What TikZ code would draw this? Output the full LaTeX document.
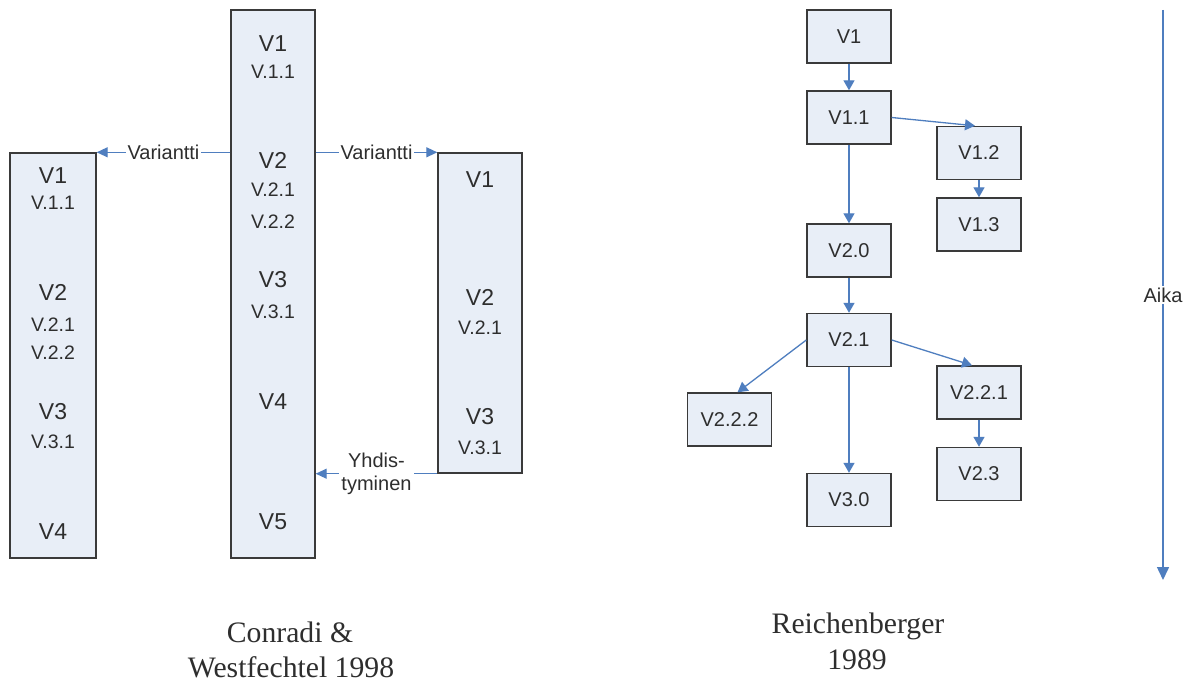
\documentclass[tikz,border=0pt]{standalone}
\usepackage{fontspec}
\setmainfont{Liberation Sans}
\newfontfamily\capfont{Liberation Serif}
\usetikzlibrary{arrows.meta,calc}
\definecolor{boxfill}{HTML}{E8EEF7}
\definecolor{boxline}{HTML}{3A3A3A}
\definecolor{linkblue}{HTML}{4F7EBF}
\definecolor{ink}{HTML}{2E2E2E}

\begin{document}
\begin{tikzpicture}[x=1pt,y=-1pt,
  column/.style={draw=boxline, line width=1.4pt, fill=boxfill, inner sep=0pt},
  verbox/.style={draw=boxline, line width=1.4pt, fill=boxfill, minimum width=84pt,
    minimum height=53pt, inner sep=0pt, font=\fontsize{20}{24}\selectfont, text=ink},
  big/.style={font=\fontsize{23}{27}\selectfont, text=ink, inner sep=0pt},
  small/.style={font=\fontsize{19.5}{23}\selectfont, text=ink, inner sep=0pt},
  link/.style={draw=linkblue, line width=1.3pt, -{Triangle[width=11pt,length=10pt]}},
  tag/.style={fill=white, inner sep=2pt, text=ink, font=\fontsize{20}{23}\selectfont},
  caption/.style={font=\capfont\fontsize{29.7}{35}\selectfont, text=ink, anchor=base, inner sep=0pt}]

\fill[white] (0,0) rectangle (1194,682);
\useasboundingbox (0,0) rectangle (1194,682);

% --- version columns (Conradi & Westfechtel) ---
\node[column, minimum width=84pt, minimum height=548pt] (mid) at (273,284) {};
\node[column, minimum width=86pt, minimum height=405pt] (left) at (53,355.5) {};
\node[column, minimum width=84pt, minimum height=320pt] (right) at (480,313) {};

% main line
\node[big]   (m1)  at (273,44)  {V1};
\node[small] (m11) at (273,72)  {V.1.1};
\node[big]   (m2)  at (273,160) {V2};
\node[small] (m21) at (273,190) {V.2.1};
\node[small] (m22) at (273,222) {V.2.2};
\node[big]   (m3)  at (273,280) {V3};
\node[small] (m31) at (273,312) {V.3.1};
\node[big]   (m4)  at (273,402) {V4};
\node[big]   (m5)  at (273,522) {V5};

% left variant
\node[big]   (l1)  at (53,176) {V1};
\node[small] (l11) at (53,203) {V.1.1};
\node[big]   (l2)  at (53,292) {V2};
\node[small] (l21) at (53,325) {V.2.1};
\node[small] (l22) at (53,353) {V.2.2};
\node[big]   (l3)  at (53,412) {V3};
\node[small] (l31) at (53,442) {V.3.1};
\node[big]   (l4)  at (53,532) {V4};

% right variant
\node[big]   (r1)  at (480,180) {V1};
\node[big]   (r2)  at (480,297) {V2};
\node[small] (r21) at (480,328) {V.2.1};
\node[big]   (r3)  at (480,417) {V3};
\node[small] (r31) at (480,448) {V.3.1};

\draw[link, -{Triangle[width=10pt,length=11pt]}] (mid.west |- left.north east)
  -- node[tag] {Variantti} (left.north east);
\draw[link, -{Triangle[width=10pt,length=11pt]}] (mid.east |- right.north west)
  -- node[tag] {Variantti} (right.north west);
\draw[link, -{Triangle[width=10pt,length=11pt]}] (right.south west)
  -- node[tag, align=center] {Yhdis-\\tyminen} (mid.east |- right.south west);

% --- version tree (Reichenberger) ---
\node[verbox] (v1)   at (849,36.5)  {V1};
\node[verbox] (v11)  at (849,117.5) {V1.1};
\node[verbox] (v12)  at (979,153)   {V1.2};
\node[verbox] (v13)  at (979,224.5) {V1.3};
\node[verbox] (v20)  at (849,250.5) {V2.0};
\node[verbox] (v21)  at (849,340)   {V2.1};
\node[verbox] (v222) at (729.5,419.5) {V2.2.2};
\node[verbox] (v221) at (979,392.5) {V2.2.1};
\node[verbox] (v23)  at (979,474)   {V2.3};
\node[verbox] (v30)  at (849,500)   {V3.0};

\draw[link] (v1) -- (v11);
\draw[link] (v11.east) -- ($(v12.north)+(-4,0)$);
\draw[link] (v11) -- (v20);
\draw[link] (v12) -- (v13);
\draw[link] (v20) -- (v21);
\draw[link] (v21.west) -- ($(v222.north)+(8,0)$);
\draw[link] (v21.east) -- ($(v221.north)+(-7,0)$);
\draw[link] (v21) -- (v30);
\draw[link] (v221) -- (v23);

% time axis
\coordinate (t0) at (1163,10);
\coordinate (t1) at (1163,580);
\draw[link, line width=1.5pt, -{Triangle[width=12pt,length=13pt]}] (t0)
  -- node[tag, pos=0.5] {Aika} (t1);

% captions
\node[caption] (c1a) at (290,642) {Conradi \&};
\node[caption] (c1b) at (291,677) {Westfechtel 1998};
\node[caption] (c2a) at (858,633) {Reichenberger};
\node[caption] (c2b) at (857,669) {1989};

\end{tikzpicture}
\end{document}
